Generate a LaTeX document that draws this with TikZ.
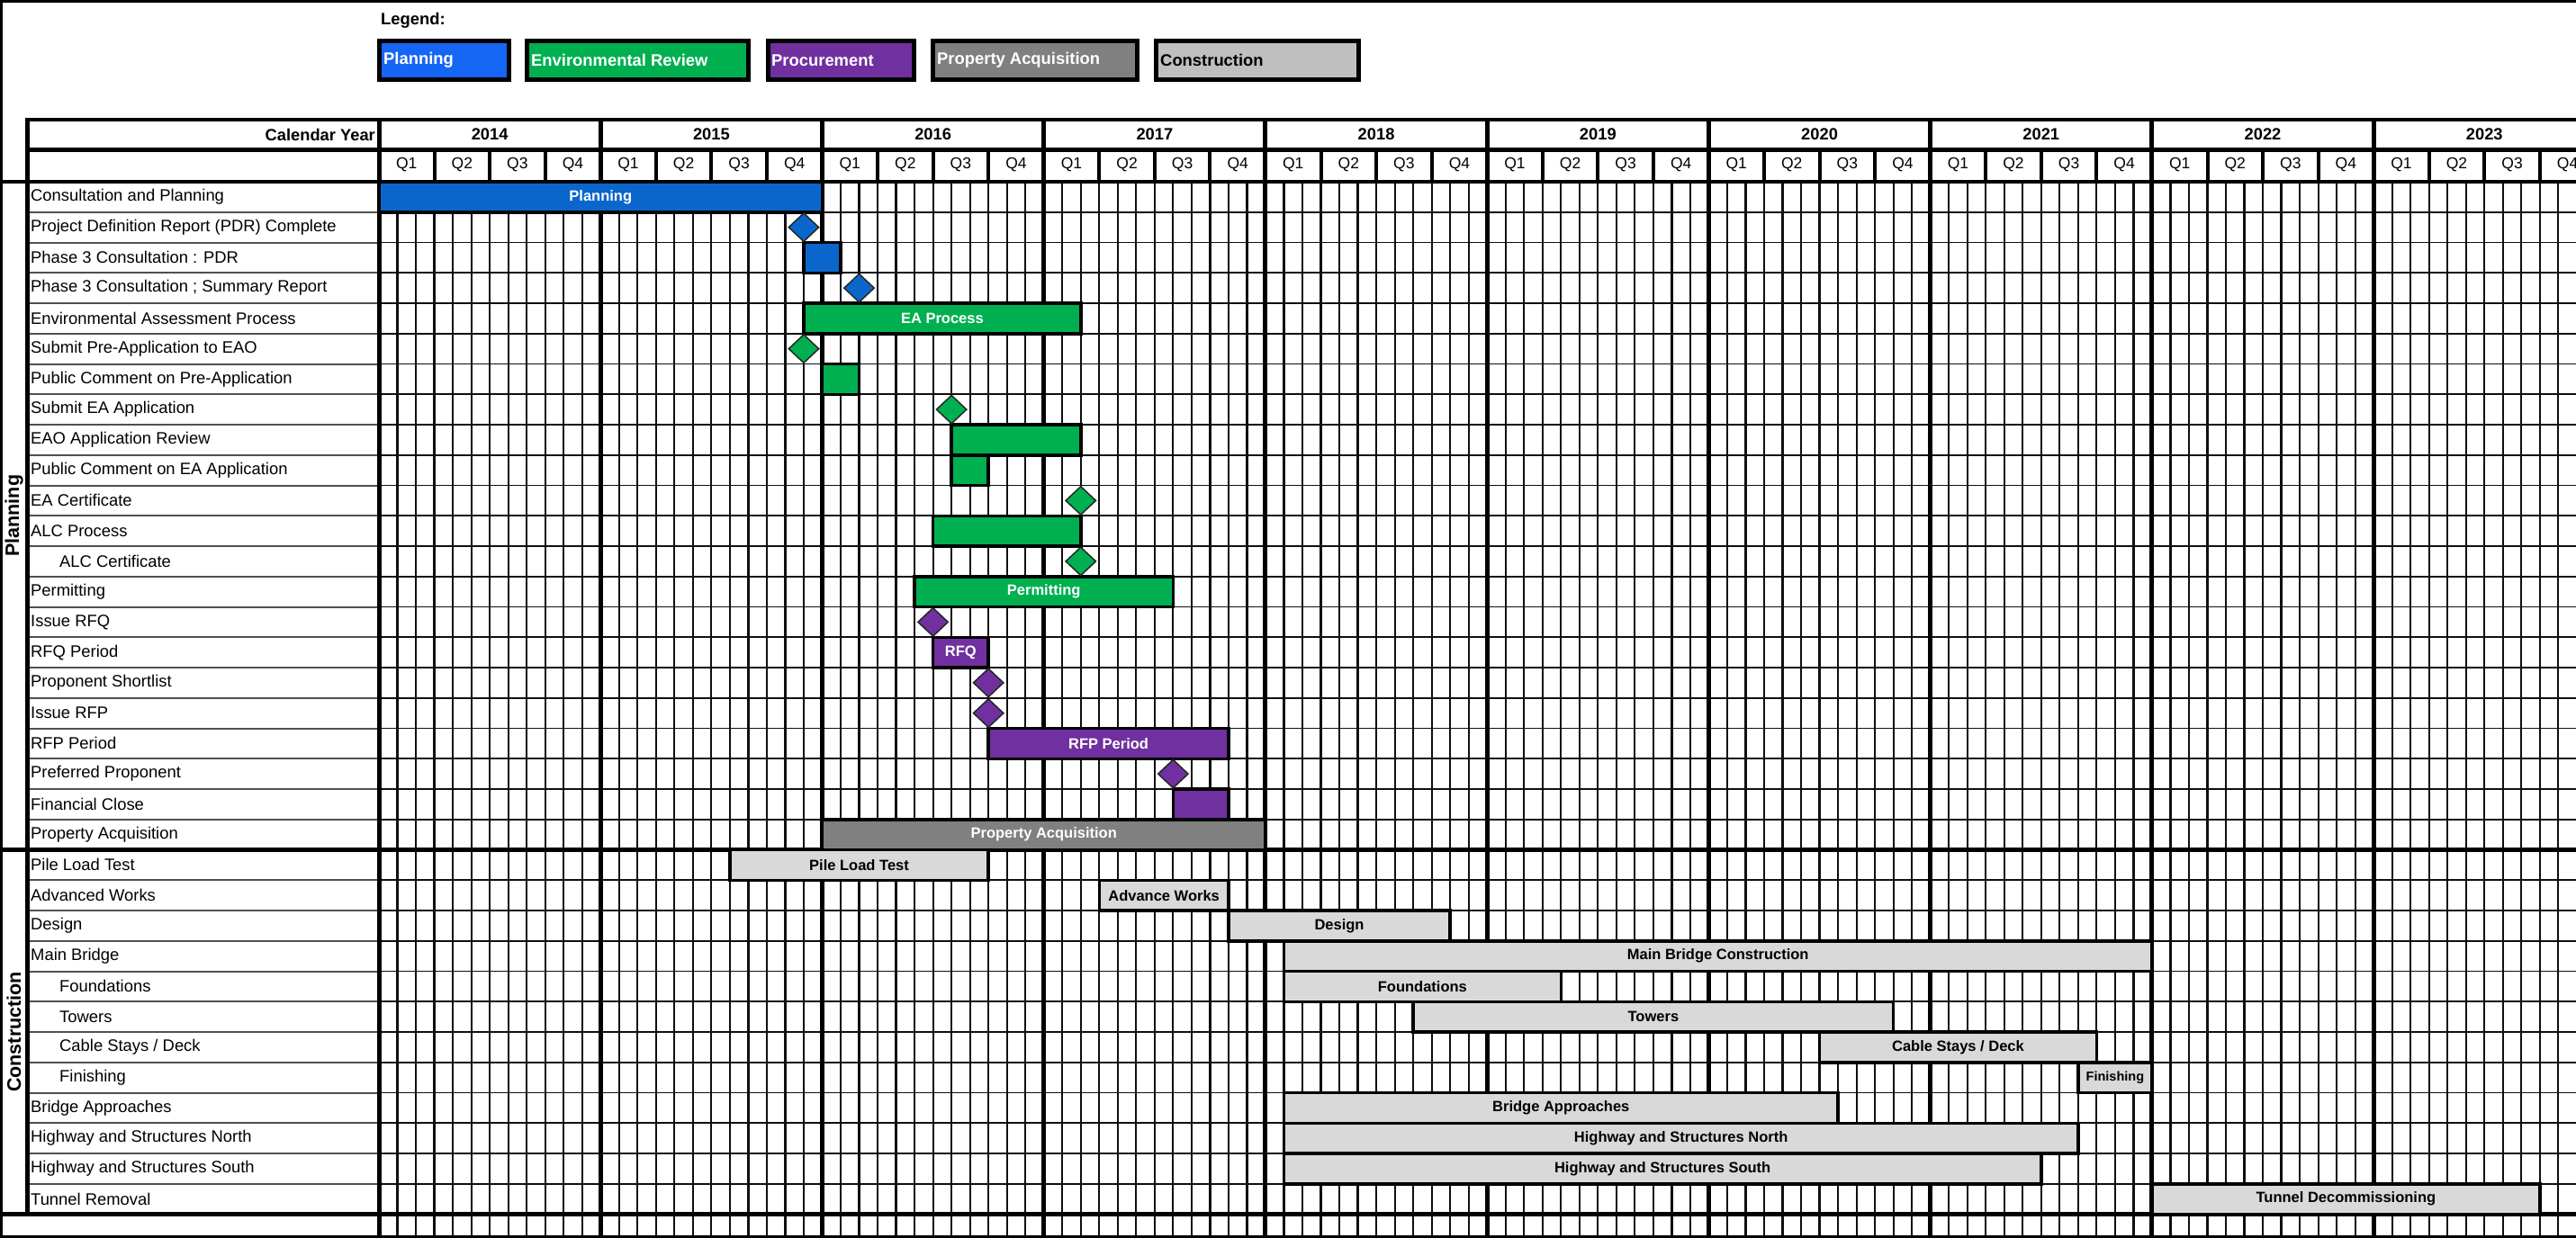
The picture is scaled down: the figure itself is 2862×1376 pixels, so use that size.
\documentclass[tikz,border=0pt]{standalone}
\usepackage{fontspec}
\setmainfont{Liberation Sans}
\usetikzlibrary{shapes.geometric}
\definecolor{planblue}{RGB}{11,102,204}
\definecolor{legblue}{RGB}{22,102,245}
\definecolor{envgreen}{RGB}{0,176,80}
\definecolor{procpurple}{RGB}{112,48,160}
\definecolor{propgray}{RGB}{128,128,128}
\definecolor{conslight}{RGB}{217,217,217}
\definecolor{conslegend}{RGB}{191,191,191}
\definecolor{gridcol}{RGB}{15,15,15}
\definecolor{rowlinecol}{RGB}{80,80,80}
\newcommand{\gmx}[1]{(421+20.52*(#1))}
\newcommand{\gry}[1]{(202+33.75*(#1))}
\newcommand{\rowlab}[3]{\node[rowtext] (row#1) at ({#3},{\gry{#1+0.5}}) {#2};}
\newcommand{\gbar}[7]{\node[barbox, fill=#5, text=#6, minimum width={20.52pt*((#4)-(#3))}] (#1) at ({\gmx{#3}},{\gry{#2+0.5}}) {#7};}
\newcommand{\gmile}[4]{\node[milestone, fill=#4] (#1) at ({\gmx{#3}},{\gry{#2+0.5}}) {};}
\tikzset{
  rowtext/.style={anchor=west, inner sep=0pt, font=\fontsize{18.4pt}{21pt}\selectfont},
  barbox/.style={anchor=west, draw=black, line width=3.5pt, minimum height=33.75pt, inner sep=0pt, outer sep=0pt, font=\bfseries\fontsize{16.5pt}{19pt}\selectfont},
  milestone/.style={diamond, draw=black!85, line width=1.5pt, minimum width=34pt, minimum height=32pt, inner sep=0pt},
  gridv/.style={draw=gridcol, line width=2.2pt},
  gridh/.style={draw=gridcol, line width=1.8pt},
  labh/.style={draw=rowlinecol, line width=2pt},
  yearv/.style={draw=black, line width=5pt},
  qsep/.style={draw=black, line width=4pt},
  heavy/.style={draw=black, line width=4.5pt},
  legbox/.style={draw=black, line width=5pt, anchor=west, inner sep=0pt, outer sep=0pt, minimum height=43pt},
  legtext/.style={anchor=west, inner sep=0pt, font=\bfseries\fontsize{18.4pt}{21pt}\selectfont},
  hdrtext/.style={inner sep=0pt, font=\bfseries\fontsize{18.3pt}{21pt}\selectfont},
  qtext/.style={inner sep=0pt, font=\fontsize{17.5pt}{20pt}\selectfont},
  sectext/.style={rotate=90, inner sep=0pt, font=\bfseries\fontsize{21.5pt}{24pt}\selectfont},
}
\begin{document}
\begin{tikzpicture}[x=1pt,y=-1pt]
\useasboundingbox (0,0) rectangle (2862,1376);
\fill[white] (0,0) rectangle (2862,1376);

% legend
\node[legtext, anchor=west] (legtitle) at (423,23) {Legend:};
\node[legbox, fill=legblue, minimum width=144pt] (legPlan) at (421.5,67) {};
\node[legtext, text=white] (legPlanT) at (426,67) {Planning};
\node[legbox, fill=envgreen, minimum width=246pt] (legEnv) at (585.5,67) {};
\node[legtext, text=white] (legEnvT) at (590,67) {Environmental Review};
\node[legbox, fill=procpurple, minimum width=162pt] (legProc) at (853.5,67) {};
\node[legtext, text=white] (legProcT) at (857,67) {Procurement};
\node[legbox, fill=propgray, minimum width=227pt] (legProp) at (1036.5,67) {};
\node[legtext, text=white] (legPropT) at (1041,67) {Property Acquisition};
\node[legbox, fill=conslegend, minimum width=225pt] (legCons) at (1284.5,67) {};
\node[legtext, text=black] (legConsT) at (1289,67) {Construction};

% row lines
\foreach \r in {1,...,33} {
  \draw[labh] (32,{\gry{\r}}) -- (421,{\gry{\r}});
  \draw[gridh] (421,{\gry{\r}}) -- (2862,{\gry{\r}});
}
% month lines
\foreach \m in {1,...,118} {
  \draw[gridv] ({\gmx{\m}},202) -- ({\gmx{\m}},1376);
}
% quarter separators in header
\foreach \k in {0,...,9} {
  \foreach \q in {1,2,3} {
    \draw[qsep] ({\gmx{12*\k+3*\q}},166) -- ({\gmx{12*\k+3*\q}},202);
  }
}
% year lines
\foreach \k in {1,...,9} {
  \draw[yearv] ({\gmx{12*\k}},133) -- ({\gmx{12*\k}},1376);
}
% header horizontals
\draw[draw=black, line width=3.5pt] (30,133) -- (2862,133);
\draw[draw=black, line width=5pt] (30,166) -- (2862,166);
\draw[heavy] (0,202) -- (2862,202);
\draw[heavy] (0,{\gry{22}}) -- (2862,{\gry{22}});
\draw[heavy] (0,{\gry{34}}) -- (2862,{\gry{34}});
\draw[draw=black, line width=2.5pt] (0,1374.5) -- (2862,1374.5);
% frame verticals
\draw[heavy] (30.5,131) -- (30.5,{\gry{34}});
\draw[draw=black, line width=5pt] (421,131) -- (421,1376);
\draw[draw=black, line width=3.5pt] (1.5,0) -- (1.5,1376);
\draw[draw=black, line width=3pt] (0,1.5) -- (2862,1.5);

% header text
\node[hdrtext, anchor=east] (calyear) at (417,149.5) {Calendar Year};
\foreach \yr [count=\k from 0] in {2014,2015,2016,2017,2018,2019,2020,2021,2022,2023} {
  \node[hdrtext] (yr\yr) at ({\gmx{12*\k+6}},149.5) {\yr};
  \foreach \q in {1,2,3,4} {
    \node[qtext] (q\yr-\q) at ({\gmx{12*\k+3*\q-1.5}},183.5) {Q\q};
  }
}

% section labels
\node[sectext] (secPlan) at (15.5,{\gry{11}}) {Planning};
\node[sectext] (secCons) at (15.5,{\gry{28}}) {Construction};

% row labels
\rowlab{0}{Consultation and Planning}{34}
\rowlab{1}{Project Definition Report (PDR) Complete}{34}
\rowlab{2}{Phase 3 Consultation : PDR}{34}
\rowlab{3}{Phase 3 Consultation ; Summary Report}{34}
\rowlab{4}{Environmental Assessment Process}{34}
\rowlab{5}{Submit Pre-Application to EAO}{34}
\rowlab{6}{Public Comment on Pre-Application}{34}
\rowlab{7}{Submit EA Application}{34}
\rowlab{8}{EAO Application Review}{34}
\rowlab{9}{Public Comment on EA Application}{34}
\rowlab{10}{EA Certificate}{34}
\rowlab{11}{ALC Process}{34}
\rowlab{12}{ALC Certificate}{66}
\rowlab{13}{Permitting}{34}
\rowlab{14}{Issue RFQ}{34}
\rowlab{15}{RFQ Period}{34}
\rowlab{16}{Proponent Shortlist}{34}
\rowlab{17}{Issue RFP}{34}
\rowlab{18}{RFP Period}{34}
\rowlab{19}{Preferred Proponent}{34}
\rowlab{20}{Financial Close}{34}
\rowlab{21}{Property Acquisition}{34}
\rowlab{22}{Pile Load Test}{34}
\rowlab{23}{Advanced Works}{34}
\rowlab{24}{Design}{34}
\rowlab{25}{Main Bridge}{34}
\rowlab{26}{Foundations}{66}
\rowlab{27}{Towers}{66}
\rowlab{28}{Cable Stays / Deck}{66}
\rowlab{29}{Finishing}{66}
\rowlab{30}{Bridge Approaches}{34}
\rowlab{31}{Highway and Structures North}{34}
\rowlab{32}{Highway and Structures South}{34}
\rowlab{33}{Tunnel Removal}{34}

% bars
\gbar{bPlan}{0}{0}{24}{planblue}{white}{Planning}
\gbar{bP3}{2}{23}{25}{planblue}{white}{}
\gbar{bEA}{4}{23}{38}{envgreen}{white}{EA Process}
\gbar{bPCpre}{6}{24}{26}{envgreen}{white}{}
\gbar{bEAO}{8}{31}{38}{envgreen}{white}{}
\gbar{bPCea}{9}{31}{33}{envgreen}{white}{}
\gbar{bALC}{11}{30}{38}{envgreen}{white}{}
\gbar{bPerm}{13}{29}{43}{envgreen}{white}{Permitting}
\gbar{bRFQ}{15}{30}{33}{procpurple}{white}{RFQ}
\gbar{bRFP}{18}{33}{46}{procpurple}{white}{RFP Period}
\gbar{bFin}{20}{43}{46}{procpurple}{white}{}
\gbar{bProp}{21}{24}{48}{propgray}{white}{Property Acquisition}
\gbar{bPile}{22}{19}{33}{conslight}{black}{Pile Load Test}
\gbar{bAdv}{23}{39}{46}{conslight}{black}{Advance Works}
\gbar{bDes}{24}{46}{58}{conslight}{black}{Design}
\gbar{bMain}{25}{49}{96}{conslight}{black}{Main Bridge Construction}
\gbar{bFound}{26}{49}{64}{conslight}{black}{Foundations}
\gbar{bTow}{27}{56}{82}{conslight}{black}{Towers}
\gbar{bCable}{28}{78}{93}{conslight}{black}{Cable Stays / Deck}
\gbar{bFinish}{29}{92}{96}{conslight}{black}{\fontsize{14.5pt}{16pt}\selectfont Finishing}
\gbar{bBA}{30}{49}{79}{conslight}{black}{Bridge Approaches}
\gbar{bHSN}{31}{49}{92}{conslight}{black}{Highway and Structures North}
\gbar{bHSS}{32}{49}{90}{conslight}{black}{Highway and Structures South}
\gbar{bTun}{33}{96}{117}{conslight}{black}{Tunnel Decommissioning}

% milestones
\gmile{mPDR}{1}{23}{planblue}
\gmile{mSum}{3}{26}{planblue}
\gmile{mPre}{5}{23}{envgreen}
\gmile{mSubEA}{7}{31}{envgreen}
\gmile{mEAC}{10}{38}{envgreen}
\gmile{mALCC}{12}{38}{envgreen}
\gmile{mRFQ}{14}{30}{procpurple}
\gmile{mShort}{16}{33}{procpurple}
\gmile{mRFP}{17}{33}{procpurple}
\gmile{mPref}{19}{43}{procpurple}
\end{tikzpicture}
\end{document}
